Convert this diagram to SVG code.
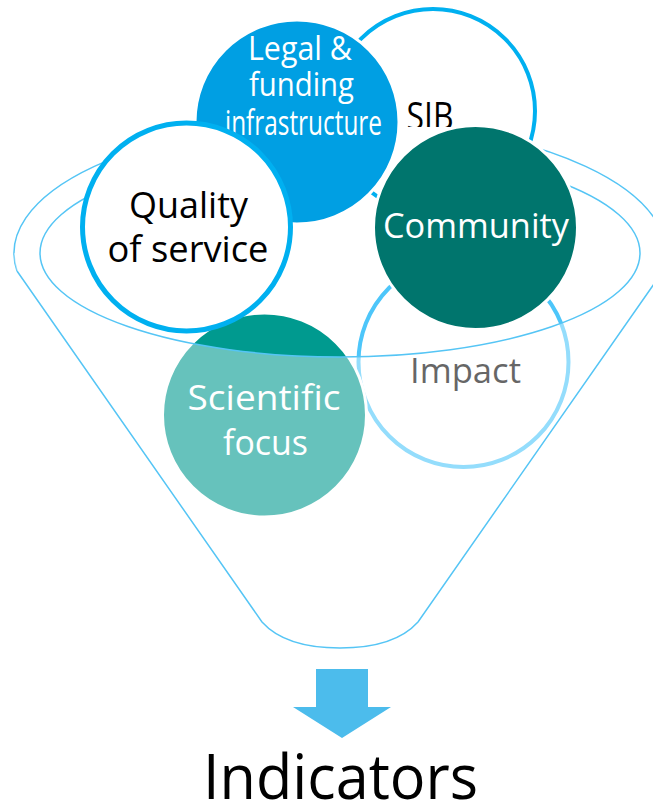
<svg xmlns="http://www.w3.org/2000/svg" width="653" height="807" viewBox="0 0 653 807">
<style>
.rim{fill:none;stroke:#55c5f5;stroke-width:1.5}
.lbl{font-family:"Open Sans","Noto Sans","DejaVu Sans",sans-serif;text-anchor:middle}
.w{fill:#ffffff}
.k{fill:#000000}
</style>
<defs>
<clipPath id="sibclip"><rect x="380" y="80" width="100" height="47"/></clipPath>
</defs>
<rect x="0" y="0" width="653" height="807" fill="#ffffff"/>
<g id="funnel-back">
<path class="rim" d="M 17 271 A 326 132 0 1 1 663 271"/>
<path class="rim" d="M 40 253 A 300 104 0 0 1 640 253"/>
</g>
<g id="sib">
<circle cx="433" cy="111" r="102" fill="#ffffff" stroke="#00b0f0" stroke-width="4"/>
<text class="lbl k" x="430" y="130" font-size="38" textLength="47" lengthAdjust="spacingAndGlyphs" clip-path="url(#sibclip)">SIB</text>
</g>
<g id="legal">
<circle cx="297" cy="122" r="102" fill="#009fe3" stroke="#ffffff" stroke-width="3"/>
<text class="lbl w" x="300" y="60" font-size="32" textLength="104" lengthAdjust="spacingAndGlyphs">Legal &amp;</text>
<text class="lbl w" x="301.5" y="96" font-size="33" textLength="105" lengthAdjust="spacingAndGlyphs">funding</text>
<text class="lbl w" x="303.5" y="135" font-size="34" textLength="157" lengthAdjust="spacingAndGlyphs">infrastructure</text>
</g>
<g id="impact">
<circle cx="463.5" cy="362" r="105" fill="#ffffff" stroke="#4dc6fa" stroke-width="4"/>
<text class="lbl k" x="465.5" y="383" font-size="35" textLength="111" lengthAdjust="spacingAndGlyphs">Impact</text>
</g>
<g id="scientific">
<circle cx="264.5" cy="415" r="102" fill="#009a8f" stroke="#ffffff" stroke-width="3"/>
<text class="lbl w" x="264" y="410" font-size="35" textLength="153" lengthAdjust="spacingAndGlyphs">Scientific</text>
<text class="lbl w" x="265.5" y="455" font-size="35" textLength="85" lengthAdjust="spacingAndGlyphs">focus</text>
</g>
<g id="quality">
<circle cx="186.5" cy="227" r="104" fill="#ffffff" stroke="#00b0f0" stroke-width="5"/>
<text class="lbl k" x="188.5" y="218" font-size="36" textLength="119" lengthAdjust="spacingAndGlyphs">Quality</text>
<text class="lbl k" x="188" y="262" font-size="36" textLength="161" lengthAdjust="spacingAndGlyphs">of service</text>
</g>
<g id="community">
<circle cx="475.5" cy="227.5" r="102" fill="#00756d" stroke="#ffffff" stroke-width="3"/>
<text class="lbl w" x="476" y="238" font-size="35" textLength="186" lengthAdjust="spacingAndGlyphs">Community</text>
</g>
<g id="funnel-front">
<path d="M 40 253 A 300 104 0 0 0 640 253 L 666 253 A 326 132 0 0 1 663 271 L 418 622 C 400 642 370 648 340 648 C 310 648 280 642 262 622 L 17 271 A 326 132 0 0 1 14 253 Z" fill="#ffffff" fill-opacity="0.4"/>
<path class="rim" d="M 40 253 A 300 104 0 0 0 640 253"/>
<path class="rim" d="M 663 271 L 418 622 C 400 642 370 648 340 648 C 310 648 280 642 262 622 L 17 271"/>
</g>
<g id="connectors">
<polygon points="316,669 368,669 368,707 391,707 342,738 293,707 316,707" fill="#4cbcec"/>
</g>
<g id="indicators">
<text class="lbl k" x="340.5" y="799" font-size="62" textLength="275" lengthAdjust="spacingAndGlyphs">Indicators</text>
</g>
</svg>
